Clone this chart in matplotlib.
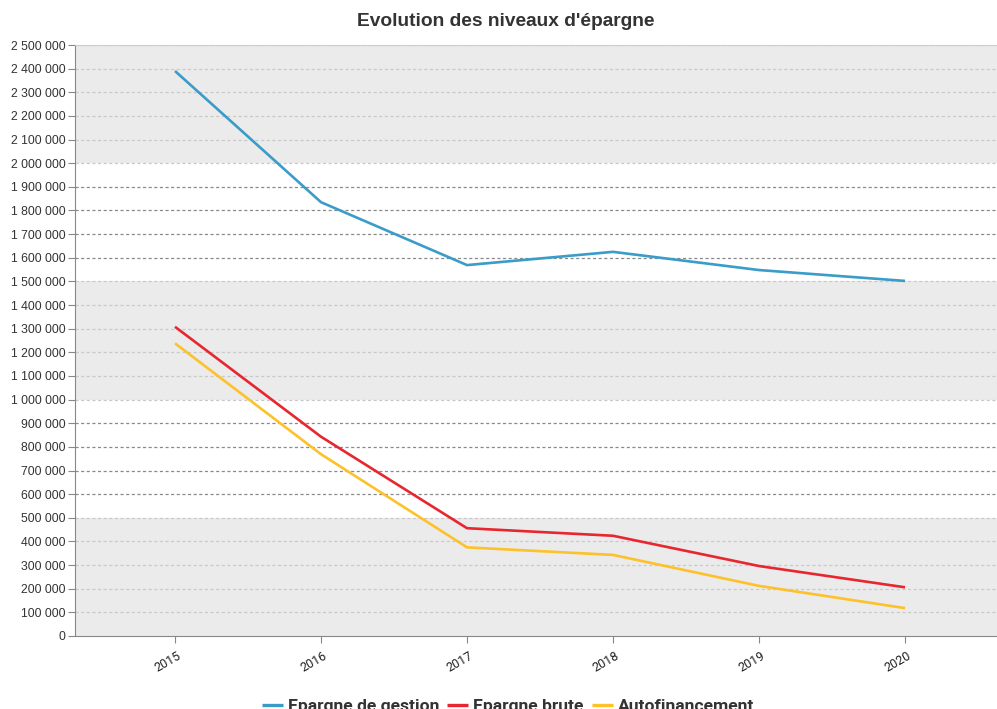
import matplotlib
matplotlib.use("Agg")
import matplotlib.pyplot as plt
import matplotlib.transforms as mtransforms
from matplotlib.ticker import FuncFormatter, MultipleLocator

# Values
years = [2015, 2016, 2017, 2018, 2019, 2020]
epargne_gestion = [2390000, 1835000, 1569000, 1625000, 1548000, 1502000]
epargne_brute = [1308000, 843000, 456000, 424000, 296000, 206000]
autofinancement = [1238000, 769000, 375000, 343000, 212000, 118000]

series_names = ["Epargne de gestion", "Epargne brute", "Autofinancement"]
colors = ["#3a9cc8", "#e8262f", "#fdc12a"]

fig = plt.figure(figsize=(9.97, 7.09), dpi=100)
ax = fig.add_axes([75 / 997, 1 - 636 / 709, 1 - 75 / 997, (636 - 45) / 709])

# alternating bands every 500 000
for lo in range(0, 2500000, 1000000):
    ax.axhspan(lo, lo + 500000, color="#ebebeb", zorder=0, lw=0)

ax.set_ylim(0, 2500000)
ax.set_xlim(years[0] - 0.685, years[-1] + 0.63)
ax.yaxis.set_major_locator(MultipleLocator(100000))
ax.set_xticks(years)
ax.set_xticklabels([])

# dashed grid, darker in the white bands
for v in ax.get_yticks():
    if v <= 0 or v > 2500000:
        continue
    in_white = (int(v // 500000) % 2 == 1) and (v % 500000 != 0)
    ax.axhline(v, color="#8a8a8a" if in_white else "#c9c9c9", lw=0.9,
               ls=(0, (2.5, 2)), zorder=1)

for vals, name, c in zip([epargne_gestion, epargne_brute, autofinancement], series_names, colors):
    ax.plot(years, vals, color=c, lw=1.9, label=name, zorder=3, solid_capstyle="butt")

ax.yaxis.set_major_formatter(FuncFormatter(lambda v, p: f"{int(v):,}".replace(",", " ")))
for lab in ax.get_yticklabels():
    lab.set_fontfamily("Liberation Sans")
    lab.set_fontsize(8.8)
    lab.set_color("#333333")

# rotated year labels, nudged a bit right of the ticks like the original
shift = mtransforms.ScaledTranslation(8 / 100, -13 / 100, fig.dpi_scale_trans)
for yr in years:
    ax.text(yr, 0, str(yr), transform=ax.get_xaxis_transform() + shift,
            rotation=30, ha="right", va="top", fontfamily="Roboto",
            fontsize=9, color="#222222")

ax.tick_params(axis="y", length=5, color="#888888", pad=2)
ax.tick_params(axis="x", length=5, color="#888888")
ax.spines["left"].set_color("#888888")
ax.spines["bottom"].set_color("#888888")
ax.spines["top"].set_color("#cccccc")
ax.spines["right"].set_visible(False)

fig.text(506 / 997, 1 - 22 / 709, "Evolution des niveaux d'épargne", ha="center", va="center",
         fontsize=13.8, fontweight="bold", color="#333333", fontfamily="Liberation Sans")

leg = fig.legend(loc="center", bbox_to_anchor=(508 / 997, 1 - 706 / 709), ncol=3, frameon=False,
                 prop={"family": "Roboto", "weight": "bold", "size": 12.6},
                 handlelength=1.2, handletextpad=0.3, columnspacing=0.45, borderpad=0,
                 labelcolor="#333333")
for h in leg.legend_handles:
    h.set_linewidth(2.4)

fig.savefig("out.png", dpi=100)
